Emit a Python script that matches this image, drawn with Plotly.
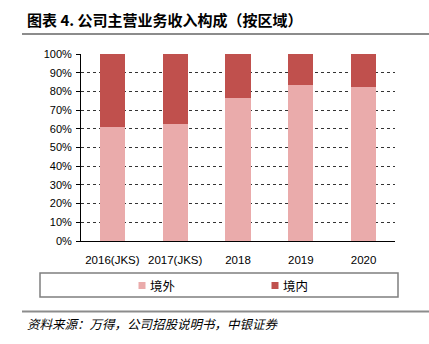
import plotly.graph_objects as go

categories = ["2016(JKS)", "2017(JKS)", "2018", "2019", "2020"]
overseas = [61.0, 62.7, 76.6, 83.6, 82.5]   # 境外 %
domestic = [39.0, 37.3, 23.4, 16.4, 17.5]   # 境内 %
y_ticks = [0, 10, 20, 30, 40, 50, 60, 70, 80, 90, 100]
y_labels = [f"{v}%" for v in y_ticks]

C_OUT = "#EAABAB"
C_IN = "#C0504D"
W, H = 429, 344
L, R, T, B = 81, 34, 54, 103

fig = go.Figure()
fig.add_trace(go.Bar(name="境外", x=categories, y=overseas, marker_color=C_OUT,
                     marker_line_width=0, showlegend=False))
fig.add_trace(go.Bar(name="境内", x=categories, y=domestic, marker_color=C_IN,
                     marker_line_width=0, showlegend=False))

def px_x(p):
    return p / W
def px_y(p):
    return 1 - p / H

shapes = [
    dict(type="line", xref="paper", yref="paper", x0=px_x(22), x1=px_x(429), y0=px_y(34), y1=px_y(34),
         line=dict(color="#8c8c8c", width=2)),
    dict(type="line", xref="paper", yref="paper", x0=px_x(22), x1=px_x(429), y0=px_y(311.5), y1=px_y(311.5),
         line=dict(color="#8c8c8c", width=2)),
    dict(type="rect", xref="paper", yref="paper", x0=px_x(40), x1=px_x(398), y0=px_y(297), y1=px_y(273),
         line=dict(color="#7f7f7f", width=1.5), fillcolor="rgba(0,0,0,0)"),
    dict(type="rect", xref="paper", yref="paper", x0=px_x(138.5), x1=px_x(145.5), y0=px_y(289), y1=px_y(282),
         line=dict(width=0), fillcolor=C_OUT),
    dict(type="rect", xref="paper", yref="paper", x0=px_x(271.5), x1=px_x(278.5), y0=px_y(289), y1=px_y(282),
         line=dict(width=0), fillcolor=C_IN),
]
# convert paper fractions relative to plot area
def conv(s):
    pw = (W - L - R) / W
    ph = (H - T - B) / H
    s = dict(s)
    for k in ("x0", "x1"):
        s[k] = (s[k] - L / W) / pw
    for k in ("y0", "y1"):
        s[k] = (s[k] - B / H) / ph
    return s
shapes = [conv(s) for s in shapes]

def ann_pos(xp, yp):
    pw = (W - L - R)
    ph = (H - T - B)
    return (xp - L) / pw, ((H - yp) - B) / ph

annotations = []
ax, ay = ann_pos(25, 20)
annotations.append(dict(text="<b>图表 4. 公司主营业务收入构成（按区域）</b>", x=ax, y=ay, xref="paper", yref="paper",
                        xanchor="left", yanchor="middle", showarrow=False,
                        font=dict(family="Noto Sans CJK SC", size=15, color="#000")))
ax, ay = ann_pos(25, 323.5)
annotations.append(dict(text="<i>资料来源：万得，公司招股说明书，中银证券</i>", x=ax, y=ay, xref="paper", yref="paper",
                        xanchor="left", yanchor="middle", showarrow=False,
                        font=dict(family="Noto Sans CJK SC", size=12.5, color="#000")))
for name, xp in (("境外", 148), ("境内", 281)):
    ax, ay = ann_pos(xp, 285.5)
    annotations.append(dict(text=name, x=ax, y=ay, xref="paper", yref="paper",
                            xanchor="left", yanchor="middle", showarrow=False,
                            font=dict(family="Noto Sans CJK SC", size=12.5, color="#000")))

fig.update_layout(
    width=W, height=H, barmode="stack", bargap=0.6,
    margin=dict(l=L, r=R, t=T, b=B, pad=0),
    paper_bgcolor="white", plot_bgcolor="white",
    font=dict(family="Liberation Sans, Arial", size=11, color="#000"),
    shapes=shapes, annotations=annotations,
    xaxis=dict(showline=True, linecolor="#000", linewidth=1, ticks="", showgrid=False,
               tickfont=dict(size=11.5), ticklabelstandoff=8),
    yaxis=dict(range=[0, 100], tickvals=y_ticks, ticktext=y_labels, showline=True, linecolor="#000",
               linewidth=1, ticks="outside", ticklen=4, tickcolor="#000",
               showgrid=True, gridcolor="#333", gridwidth=1, griddash="dot", zeroline=False,
               ticklabelstandoff=2),
)
fig.write_html("out.html")
